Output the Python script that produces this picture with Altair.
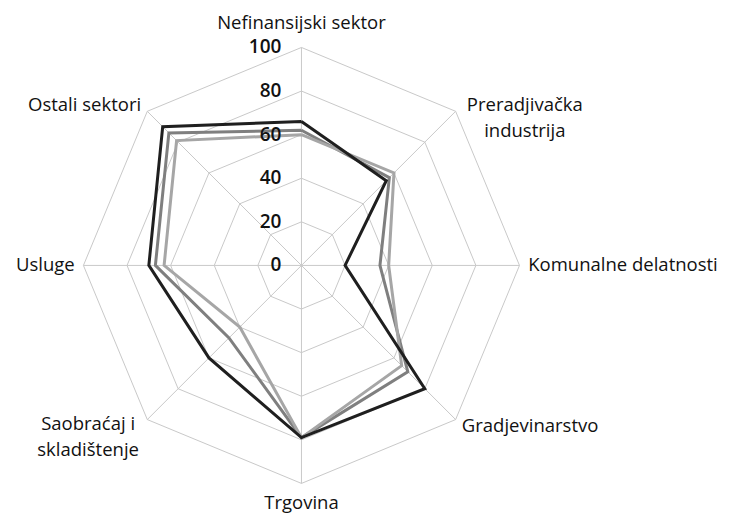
import math
import altair as alt
import pandas as pd

categories = [
    "Nefinansijski sektor",
    "Preradjivačka\nindustrija",
    "Komunalne delatnosti",
    "Gradjevinarstvo",
    "Trgovina",
    "Saobraćaj i\nskladištenje",
    "Usluge",
    "Ostali sektori",
]
series_names = ["Serija 1", "Serija 2", "Serija 3"]
serija_1 = [66, 55, 20, 80, 79, 60, 70, 90]
serija_2 = [62, 57, 36, 69, 79, 47, 67, 86]
serija_3 = [60, 60, 40, 65, 79, 40, 63, 81]
tick_values = [0, 20, 40, 60, 80, 100]
tick_labels = ["0", "20", "40", "60", "80", "100"]

N = len(categories)
STEP = 2 * math.pi / N

# series table, polygon closed by repeating first category
rows = []
for s_i, (name, vals) in enumerate(zip(series_names, [serija_1, serija_2, serija_3])):
    for k in range(N + 1):
        rows.append({"series": name, "s": s_i, "idx": k % N, "ord": k, "r": vals[k % N]})
series_df = pd.DataFrame(rows)

ring_rows = []
for lv in tick_values[1:]:
    for k in range(N + 1):
        ring_rows.append({"level": lv, "idx": k % N, "ord": k, "r": lv})
ring_df = pd.DataFrame(ring_rows)

spoke_df = pd.DataFrame({"idx": list(range(N)), "r": [tick_values[-1]] * N})
tick_df = pd.DataFrame({"r": tick_values, "label": tick_labels})

lab_align = ["center", "center", "left", "left", "center", "center", "right", "right"]
lab_dx = [0, 63, 0, 0, 0, -53, 0, 0]
lab_dy = [-16, 0, 0, 0, 11, -2, 0, 0]
label_df = pd.DataFrame({
    "name": categories, "idx": list(range(N)), "r": [104] * N,
})

XD = [-134.6, 193.8]
YD = [-114.95, 118.1]
xs = alt.Scale(domain=XD, nice=False, zero=False)
ys = alt.Scale(domain=YD, nice=False, zero=False)

def polar(ch):
    return ch.transform_calculate(
        px=f"datum.r * sin(datum.idx * {STEP})",
        py=f"datum.r * cos(datum.idx * {STEP})",
    )

X = alt.X("px:Q", scale=xs, axis=None)
Y = alt.Y("py:Q", scale=ys, axis=None)

rings = polar(alt.Chart(ring_df).mark_line(color="#c9c9c9", strokeWidth=1)).encode(
    x=X, y=Y, detail="level:N", order="ord:Q"
)
spokes = polar(alt.Chart(spoke_df).mark_rule(color="#c9c9c9", strokeWidth=1)).encode(
    x=X, y=Y, x2=alt.datum(0), y2=alt.datum(0)
)
lines = polar(alt.Chart(series_df).mark_line(strokeWidth=3, strokeJoin="miter")).encode(
    x=X, y=Y,
    color=alt.Color("series:N", scale=alt.Scale(domain=series_names,
                    range=["#1f1f1f", "#7f7f7f", "#a6a6a6"]), legend=None),
    detail="series:N",
    order="ord:Q",
)
lines_back = lines.transform_filter("datum.s > 0")
lines_front = lines.transform_filter("datum.s == 0")

ticks = alt.Chart(tick_df).mark_text(
    align="right", baseline="middle", dx=-20, font="Open Sans", fontSize=19,
    fontWeight=600, color="#111111"
).encode(x=alt.X("z:Q", scale=xs, axis=None), y=alt.Y("r:Q", scale=ys, axis=None),
         text="label:N").transform_calculate(z="0")

label_layers = []
for i in range(N):
    sub = label_df.iloc[[i]]
    label_layers.append(
        polar(alt.Chart(sub).mark_text(
            align=lab_align[i], baseline="middle", dx=lab_dx[i], dy=lab_dy[i],
            font="Open Sans", fontSize=18.5, color="#111111", lineBreak="\n",
            lineHeight=26,
        )).encode(x=X, y=Y, text="name:N")
    )

chart = alt.layer(rings, spokes, lines_back, lines_front, ticks, *label_layers).properties(
    width=716, height=508, autosize=alt.AutoSizeParams(type="none"), padding=0
).configure_view(stroke=None)

chart.save("out.html", embed_options={"renderer": "svg", "actions": False})
